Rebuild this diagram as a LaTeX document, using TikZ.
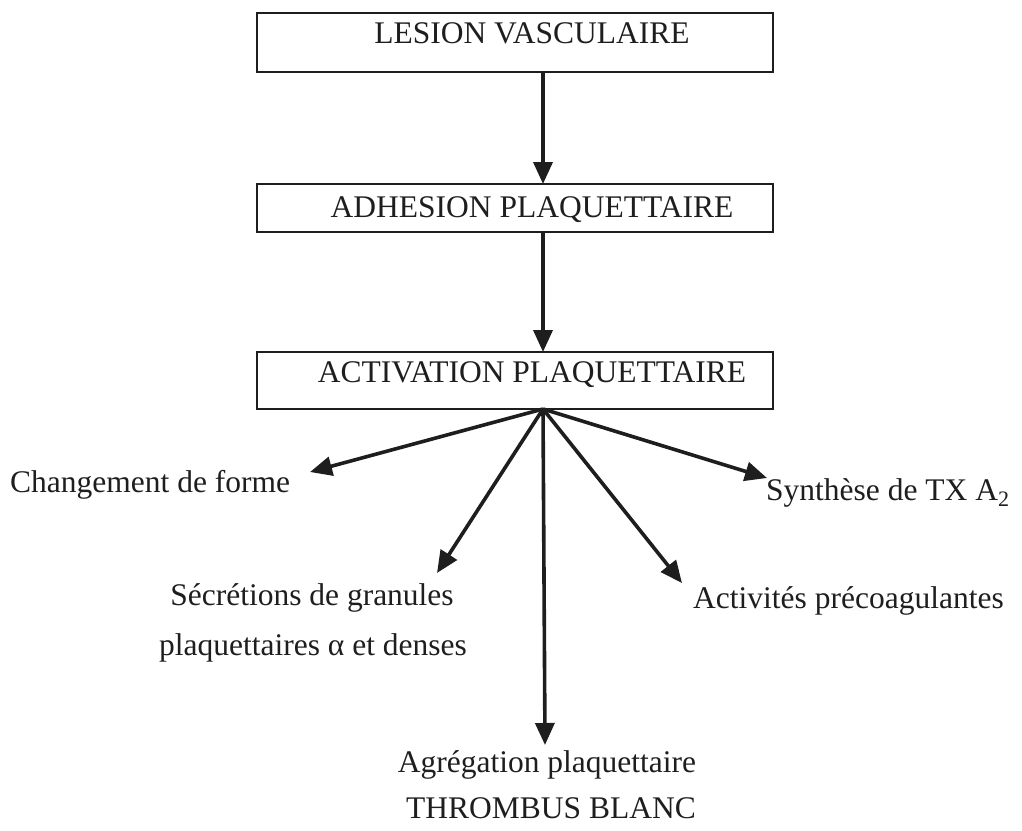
\documentclass[tikz,border=0pt]{standalone}
\usepackage{fontspec}
\setmainfont{Liberation Serif}
\usetikzlibrary{arrows.meta}
\definecolor{ink}{HTML}{1E1E1E}
\begin{document}
\begin{tikzpicture}[x=1pt,y=-1pt,
  box/.style={draw=ink,line width=2.2pt,minimum width=516pt,inner sep=0pt},
  lbl/.style={text=ink,inner sep=0pt,font=\fontsize{31.5}{36}\selectfont},
  arr/.style={draw=ink,line width=3.6pt,-{Triangle[length=22pt,width=19pt]}}]
\useasboundingbox (0,0) rectangle (1022,830);
% boxes
\node[box,minimum height=59pt] (b1) at (515,42.5) {};
\node[box,minimum height=48pt] (b2) at (515,208) {};
\node[box,minimum height=57pt] (b3) at (515,380.5) {};
\node[lbl,anchor=base] (t1) at (532,43) {LESION VASCULAIRE};
\node[lbl,anchor=base] (t2) at (532,217) {ADHESION PLAQUETTAIRE};
\node[lbl,anchor=base] (t3) at (532,382) {ACTIVATION PLAQUETTAIRE};
\coordinate (a1) at (543,72);
\coordinate (a2t) at (543,184);
\coordinate (a2) at (543,232);
\coordinate (a3t) at (543,352);
\coordinate (hub) at (543,409);
\draw[arr] (a1) -- (a2t);
\draw[arr] (a2) -- (a3t);
% outputs
\node[lbl,anchor=base west] (c1) at (10,492) {Changement de forme};
\node[lbl,anchor=base west] (c2) at (766,500) {Synthèse de TX A\textsubscript{2}};
\node[lbl,anchor=base] (c3) at (312,605) {Sécrétions de granules};
\node[lbl,anchor=base] (c3b) at (313,655) {plaquettaires α et denses};
\node[lbl,anchor=base west] (c4) at (693,608) {Activités précoagulantes};
\node[lbl,anchor=base] (c5) at (547,772) {Agrégation plaquettaire};
\node[lbl,anchor=base] (c5b) at (551,818) {THROMBUS BLANC};
\coordinate (e1) at (310,472);
\coordinate (e2) at (767,478);
\coordinate (e3) at (437,573);
\coordinate (e4) at (682,583);
\coordinate (e5) at (545,745);
\draw[arr] (hub) -- (e1);
\draw[arr] (hub) -- (e2);
\draw[arr] (hub) -- (e3);
\draw[arr] (hub) -- (e4);
\draw[arr] (hub) -- (e5);
\end{tikzpicture}
\end{document}
